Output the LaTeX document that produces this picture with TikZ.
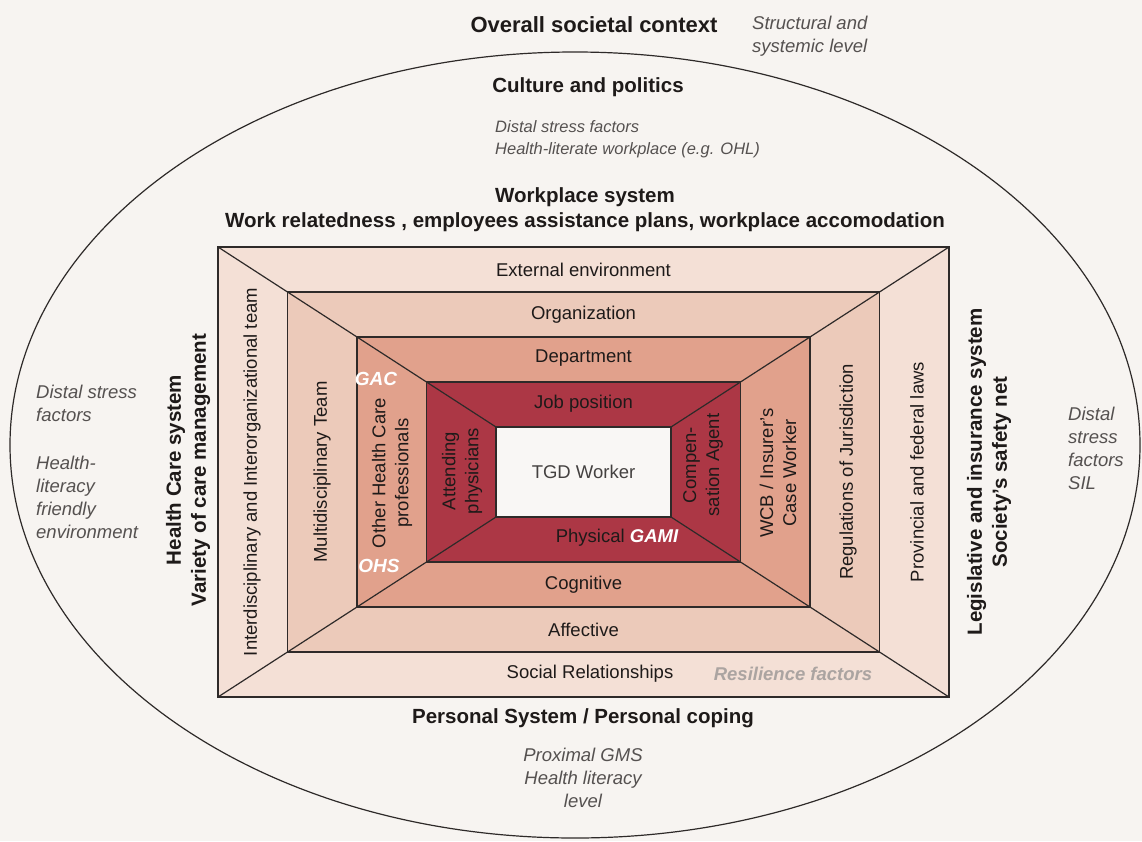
\documentclass[tikz,border=0pt]{standalone}
\usepackage{fontspec}
\setmainfont{Liberation Sans}
\definecolor{bgc}{HTML}{F7F4F1}
\definecolor{linec}{HTML}{2E2A29}
\definecolor{lvA}{HTML}{F4E0D6}
\definecolor{lvB}{HTML}{ECCABA}
\definecolor{lvC}{HTML}{E1A18C}
\definecolor{lvD}{HTML}{AC3745}
\definecolor{lvE}{HTML}{F9F7F5}
\definecolor{notec}{HTML}{555150}
\definecolor{inkc}{HTML}{1E1A19}
\definecolor{resc}{HTML}{ABA4A1}
\tikzset{
  frame/.style={draw=linec, line width=1.2pt, line join=miter},
  ring/.style={draw=linec, line width=1.2pt},
  headbig/.style={font=\fontsize{22}{26}\selectfont\bfseries, text=inkc, inner sep=0pt, align=center},
  headsub/.style={font=\fontsize{20.5}{25}\selectfont\bfseries, text=inkc, inner sep=0pt, align=center},
  note/.style={font=\fontsize{18.5}{23}\selectfont\itshape, text=notec, inner sep=0pt},
  lbl/.style={font=\fontsize{18.5}{23}\selectfont, text=inkc, inner sep=0pt, align=center},
  tag/.style={font=\fontsize{19}{23}\selectfont\bfseries\itshape, text=white, inner sep=0pt},
}
\begin{document}
\begin{tikzpicture}[x=1pt,y=-1pt]
  % canvas
  \fill[bgc] (0,0) rectangle (1142,841);
  \useasboundingbox (0,0) rectangle (1142,841);

  % societal context ellipse
  \draw[ring] (575,445) ellipse [x radius=565, y radius=393];

  % corners of the nested frames (outermost A to innermost E)
  \coordinate (nwA) at (218,247);   \coordinate (seA) at (949,697);
  \coordinate (neA) at (949,247);   \coordinate (swA) at (218,697);
  \coordinate (nwB) at (287.5,292); \coordinate (seB) at (879.5,652);
  \coordinate (nwC) at (357,337);   \coordinate (seC) at (810,607);
  \coordinate (nwD) at (426.5,382); \coordinate (seD) at (740.5,562);
  \coordinate (nwE) at (496,427);   \coordinate (seE) at (671,517);
  \coordinate (neE) at (671,427);   \coordinate (swE) at (496,517);

  \filldraw[frame, fill=lvA] (nwA) rectangle (seA);
  \filldraw[frame, fill=lvB] (nwB) rectangle (seB);
  \filldraw[frame, fill=lvC] (nwC) rectangle (seC);
  \filldraw[frame, fill=lvD] (nwD) rectangle (seD);

  % corner diagonals
  \draw[frame] (nwA) -- (nwE);
  \draw[frame] (neA) -- (neE);
  \draw[frame] (swA) -- (swE);
  \draw[frame] (seA) -- (seE);
  \filldraw[frame, fill=lvE] (nwE) rectangle (seE);

  % headings around the frame
  \node[headbig] (overall) at (594,25) {Overall societal context};
  \node[note, anchor=west, align=left] (structural) at (752,36.5) {Structural and\\systemic level};
  \node[headsub] (culture) at (588,87) {Culture and politics};
  \node[note, font=\fontsize{16.5}{22}\selectfont\itshape, anchor=west, align=left] (distaltop) at (495,139) {Distal stress factors\\Health-literate workplace (e.g. OHL)};
  \node[headsub] (workplace) at (585,210) {Workplace system\\Work relatedness , employees assistance plans, workplace accomodation};
  \node[headsub, rotate=90] (healthcare) at (188,470) {Health Care system\\Variety of care management};
  \node[headsub, rotate=90] (legislative) at (989,472) {Legislative and insurance system\\Society's safety net};
  \node[headsub] (personal) at (583,718) {Personal System / Personal coping};
  \node[note, align=center] (proximal) at (583,778) {Proximal GMS\\Health literacy\\level};

  % side notes
  \node[note, anchor=west, align=left] (distalleft) at (36,403) {Distal stress\\factors};
  \node[note, anchor=west, align=left] (literacy) at (36,497) {Health-\\literacy\\friendly\\environment};
  \node[note, anchor=west, align=left] (distalright) at (1068,448) {Distal\\stress\\factors\\SIL};

  % horizontal band labels
  \node[lbl] (external) at (583.5,270) {External environment};
  \node[lbl] (organization) at (583.5,315) {Organization};
  \node[lbl] (department) at (583.5,358) {Department};
  \node[lbl] (jobposition) at (583.5,404) {Job position};
  \node[lbl, text=notec!80!black] (tgd) at (583.5,472) {TGD Worker};
  \node[lbl] (physical) at (617,538) {Physical \textcolor{white}{\bfseries\itshape GAMI}};
  \node[lbl] (cognitive) at (583.5,585) {Cognitive};
  \node[lbl] (affective) at (583.5,630) {Affective};
  \node[lbl] (social) at (590,674) {Social Relationships};
  \node[lbl, font=\fontsize{18.5}{23}\selectfont\bfseries\itshape, text=resc] (resilience) at (793,674) {Resilience factors};

  % vertical band labels, left side
  \node[lbl, rotate=90] (interdisc) at (252,472) {Interdisciplinary and Interorganizational team};
  \node[lbl, rotate=90] (multidisc) at (322,472) {Multidisciplinary Team};
  \node[lbl, rotate=90] (otherhc) at (392,473) {Other Health Care\\professionals};
  \node[lbl, rotate=90] (attending) at (462,471) {Attending\\physicians};
  \node[tag] (gac) at (376,379) {GAC};
  \node[tag] (ohs) at (379,566) {OHS};

  % vertical band labels, right side
  \node[lbl, rotate=90] (compensation) at (703,465) {Compen-\\sation Agent};
  \node[lbl, rotate=90] (wcb) at (778,473) {WCB / Insurer's\\Case Worker};
  \node[lbl, rotate=90] (regulations) at (848,472) {Regulations of Jurisdiction};
  \node[lbl, rotate=90] (provincial) at (917,472) {Provincial and federal laws};
\end{tikzpicture}
\end{document}
